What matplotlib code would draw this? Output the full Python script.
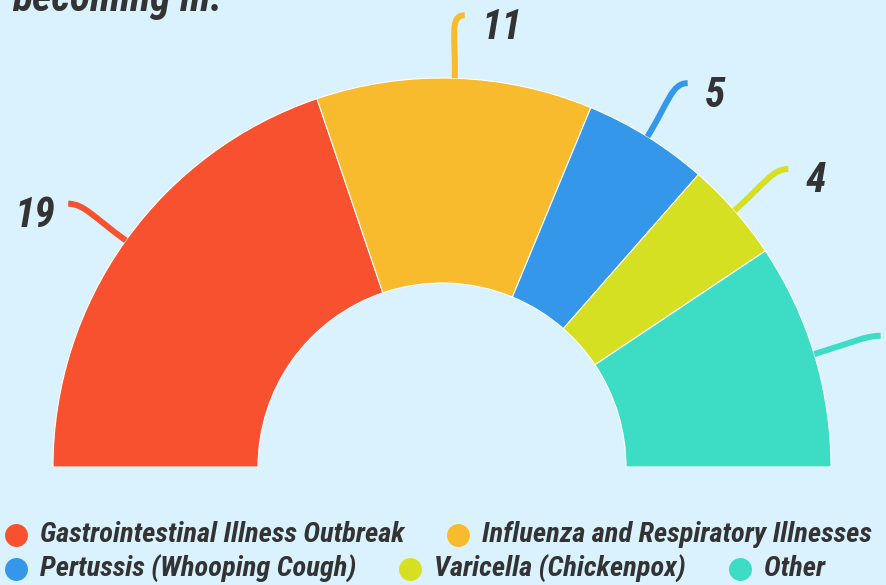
import numpy as np
from matplotlib import pyplot as plt
from matplotlib.path import Path
from matplotlib.patches import PathPatch

# data
categories = ["Gastrointestinal Illness Outbreak", "Influenza and Respiratory Illnesses",
              "Pertussis (Whooping Cough)", "Varicella (Chickenpox)", "Other"]
values = [19, 11, 5, 4, 9]
colors = ["#f7512f", "#f7bb2d", "#3497e9", "#d5e023", "#3ddcc4"]
legendRows = [2, 3]  # items per legend row
titleTail = "becoming ill:"

bg = "#d9f2fd"
textColor = "#333333"
fontList = ["Roboto Condensed", "Roboto", "DejaVu Sans"]

fig = plt.figure(figsize=(8.86, 5.85), dpi=100, facecolor=bg)
ax = fig.add_axes([0, 0, 1, 1])
ax.set_facecolor(bg)

# half donut: an invisible slice takes the lower half
cx, cy = 442, 118
R = 389
wedges, _ = ax.pie(values + [sum(values)], colors=colors + ["none"], startangle=180,
                   counterclock=False, radius=R, center=(cx, cy),
                   wedgeprops=dict(width=205, edgecolor="white", linewidth=0.8))
wedges[-1].set_visible(False)

# curved connectors + data labels
for w, val, col in zip(wedges[:-1], values, colors):
    mid = np.deg2rad((w.theta1 + w.theta2) / 2)
    ux, uy = np.cos(mid), np.sin(mid)
    side = 1 if ux >= 0 else -1
    p0 = (cx + R * ux, cy + R * uy)
    p1 = (cx + (R + 40) * ux, cy + (R + 40) * uy)
    p3 = (cx + 450 * ux + side * 8, cy + 452 * uy)
    p2 = (p3[0] - side * 16, p3[1])
    path = Path([p0, p1, p2, p3], [Path.MOVETO, Path.CURVE4, Path.CURVE4, Path.CURVE4])
    ax.add_patch(PathPatch(path, facecolor="none", edgecolor=col, lw=4.3, capstyle="butt"))
    lx = p3[0] + (17 if side > 0 else -13)
    if lx > 886:  # label falls outside the canvas, as in the original
        continue
    ax.text(lx, p3[1] - 12, str(val), ha="left" if side > 0 else "right",
            va="center", fontsize=30, fontweight="bold", fontstyle="italic",
            color=textColor, family=fontList)

# last line of the (cut off) title
ax.text(12, 574, titleTail, ha="left", va="baseline", fontsize=30, fontweight="bold",
        fontstyle="italic", color=textColor, family=fontList)

# legend laid out in rows like the original
renderer = fig.canvas.get_renderer()
rowY = [50, 16]
idx = 0
for row, n in enumerate(legendRows):
    x = 4
    for k in range(n):
        ax.plot([x + 12], [rowY[row]], "o", ms=16.5, color=colors[idx], mec="none")
        t = ax.text(x + 36, rowY[row], categories[idx], ha="left", va="center", fontsize=20.5,
                    fontweight="bold", fontstyle="italic", color=textColor, family=fontList)
        x = x + 36 + t.get_window_extent(renderer).width + 42
        idx += 1

ax.set_xlim(0, 886)
ax.set_ylim(0, 585)
ax.set_aspect("equal")
ax.axis("off")

fig.savefig("out.png", dpi=100, facecolor=bg)
